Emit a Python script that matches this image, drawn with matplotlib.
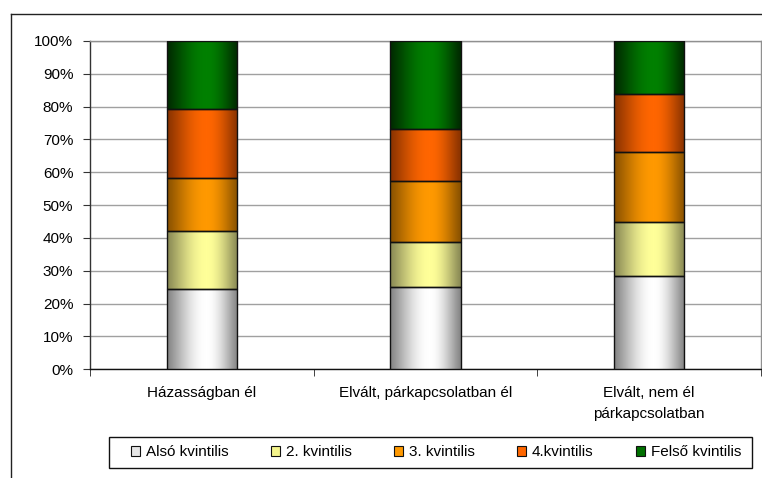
import numpy as np
import matplotlib
matplotlib.use("Agg")
import matplotlib.pyplot as plt
from matplotlib.patches import Rectangle, Patch
from matplotlib.lines import Line2D
from matplotlib.colors import LinearSegmentedColormap

plt.rcParams['font.family'] = ['Liberation Sans', 'DejaVu Sans']

categories = ["Házasságban él", "Elvált, párkapcsolatban él", "Elvált, nem él\npárkapcsolatban"]
series_names = ["Alsó kvintilis", "2. kvintilis", "3. kvintilis", "4.kvintilis", "Felső kvintilis"]
also = [24.5, 25.2, 28.5]
k2 = [17.6, 13.7, 16.5]
k3 = [16.2, 18.5, 21.1]
k4 = [21.0, 15.7, 17.8]
felso = [20.7, 26.9, 16.1]
series_values = [also, k2, k3, k4, felso]
yticks = [0, 10, 20, 30, 40, 50, 60, 70, 80, 90, 100]

center_colors = ["#FFFFFF", "#FFFF99", "#FF9900", "#FF6600", "#008000"]
edge_colors = ["#858585", "#8A8A55", "#8A5200", "#8A3300", "#002A00"]
legend_colors = ["#E6E6E6", "#F5F58C", "#FF9900", "#FF6600", "#007000"]

FS = 11
W, H = 762, 478
fig = plt.figure(figsize=(W / 100, H / 100), dpi=100)
ax = fig.add_axes([90 / W, 1 - 369.3 / H, (761 - 90) / W, (369.3 - 41) / H])

x = np.arange(len(categories))
totals = np.sum(np.array(series_values), axis=0)
bottom = np.zeros(len(categories))

xs = np.linspace(0, 1, 256)
c = 0.56
prof = np.where(xs < c, xs / c, (1 - xs) / (1 - c))
prof = np.clip(prof, 0, 1)
prof = np.sin(prof * np.pi / 2) ** 1.2
grad = prof[np.newaxis, :]

bw = 0.313
for i, vals in enumerate(series_values):
    pct = np.array(vals) / totals * 100
    bars = ax.bar(x, pct, bw, bottom=bottom, facecolor='none', edgecolor='#111111',
                  linewidth=1.0, zorder=4)
    cmap = LinearSegmentedColormap.from_list("g%d" % i, [edge_colors[i], center_colors[i]])
    for b in bars:
        x0, y0 = b.get_x(), b.get_y()
        im = ax.imshow(grad, cmap=cmap, vmin=0, vmax=1, aspect='auto',
                       extent=[x0, x0 + b.get_width(), y0, y0 + b.get_height()],
                       zorder=3, interpolation='bilinear')
        im.set_clip_path(b)
    bottom += pct

ax.set_xlim(-0.5, 2.5)
ax.set_ylim(0, 100)
ax.set_yticks(yticks)
ax.set_yticklabels([f"{v}%" for v in yticks], fontsize=FS)
ax.yaxis.grid(True, color='#A0A0A0', linewidth=1.0, zorder=0)
ax.set_axisbelow(True)

ax.set_xticks(x)
ax.set_xticklabels(categories, fontsize=FS, linespacing=1.6)
ax.set_xticks([-0.5, 0.5, 1.5, 2.5], minor=True)
ax.tick_params(axis='x', which='major', length=0, pad=12)
ax.tick_params(axis='x', which='minor', length=5, direction='out', color='#222222')
ax.tick_params(axis='y', length=5, direction='out', pad=7, color='#333333')

ax.spines['left'].set_color('#333333')
ax.spines['bottom'].set_color('#111111')
ax.spines['top'].set_color('#909090')
ax.spines['right'].set_color('#909090')
for s in ax.spines.values():
    s.set_linewidth(1.0)

# outer chart border (cut off at right and bottom)
fig.add_artist(Line2D([10.5 / W, 10.5 / W], [0, 1 - 14 / H], color='#222222', lw=1, transform=fig.transFigure))
fig.add_artist(Line2D([10.5 / W, 1], [1 - 14 / H, 1 - 14 / H], color='#222222', lw=1, transform=fig.transFigure))

# legend
handles = [Patch(facecolor=legend_colors[i], edgecolor='#111111', linewidth=0.8) for i in range(5)]
fig.add_artist(Rectangle((109 / W, 10 / H), 643 / W, 31 / H, transform=fig.transFigure,
                         facecolor='white', edgecolor='#111111', lw=1))
leg = fig.legend(handles, series_names, loc='center', bbox_to_anchor=(436 / W, 25.5 / H),
                 ncol=5, frameon=False, fontsize=FS, handlelength=0.6, handleheight=0.6,
                 handletextpad=0.4, columnspacing=2.75, borderpad=0.2)

fig.savefig("out.png", dpi=100)
